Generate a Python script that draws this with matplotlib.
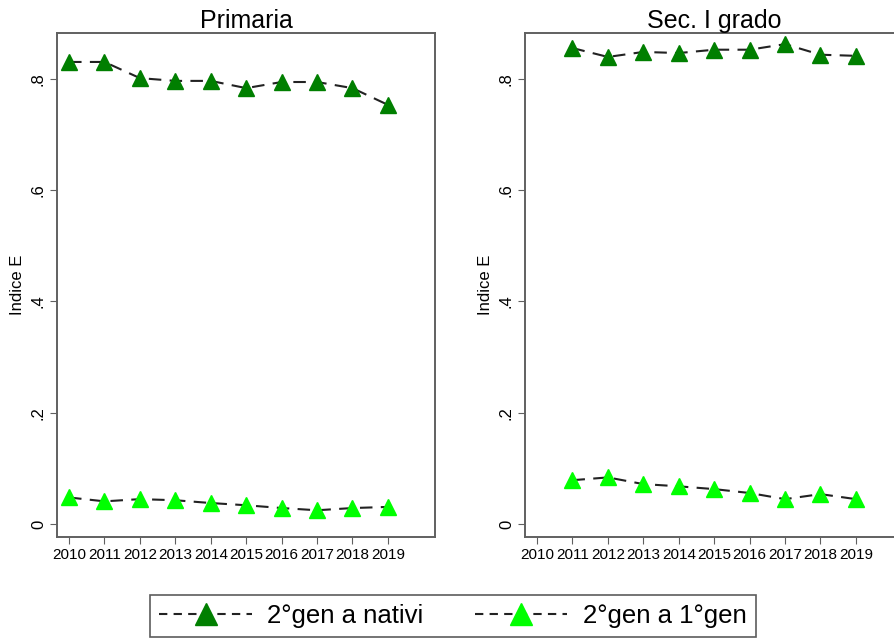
import numpy as np
import matplotlib
matplotlib.use("Agg")
import matplotlib.pyplot as plt
from matplotlib.lines import Line2D

plt.rcParams["font.family"] = ["Liberation Sans", "DejaVu Sans"]

years_prim = [2010, 2011, 2012, 2013, 2014, 2015, 2016, 2017, 2018, 2019]
prim_nativi = [0.830, 0.830, 0.801, 0.796, 0.796, 0.783, 0.794, 0.794, 0.783, 0.753]
prim_1gen = [0.048, 0.041, 0.045, 0.043, 0.038, 0.034, 0.029, 0.025, 0.029, 0.031]

years_sec = [2011, 2012, 2013, 2014, 2015, 2016, 2017, 2018, 2019]
sec_nativi = [0.855, 0.839, 0.848, 0.846, 0.852, 0.852, 0.862, 0.843, 0.841]
sec_1gen = [0.079, 0.084, 0.072, 0.068, 0.063, 0.056, 0.045, 0.054, 0.045]

xticks = list(range(2010, 2020))
yticks = [0, 0.2, 0.4, 0.6, 0.8]
ytick_labels = ["0", ".2", ".4", ".6", ".8"]

dark = "#007F00"
light = "#00FF00"
spine_col = "#606060"

fig = plt.figure(figsize=(8.94, 6.41), dpi=100)
ax1 = fig.add_axes([57 / 894, 1 - 537 / 641, 378 / 894, 504 / 641])
ax2 = fig.add_axes([525 / 894, 1 - 537 / 641, 378 / 894, 504 / 641])

panels = [
    (ax1, "Primaria", years_prim, prim_nativi, prim_1gen),
    (ax2, "Sec. I grado", years_sec, sec_nativi, sec_1gen),
]

for ax, title, yrs, nat, gen1 in panels:
    ax.plot(yrs, nat, linestyle=(0, (6, 4)), color="#222222", linewidth=1.5,
            marker="^", markersize=12, markerfacecolor=dark, markeredgecolor=dark)
    ax.plot(yrs, gen1, linestyle=(0, (6, 4)), color="#222222", linewidth=1.5,
            marker="^", markersize=12, markerfacecolor=light, markeredgecolor=light)
    ax.set_xlim(2009.66, 2020.33)
    ax.set_ylim(-0.023, 0.882)
    ax.set_xticks(xticks)
    ax.set_xticklabels([str(x) for x in xticks], fontsize=11)
    ax.set_yticks(yticks)
    ax.set_yticklabels(ytick_labels, rotation=90, va="center", fontsize=12)
    ax.set_ylabel("Indice E", fontsize=12, labelpad=4)
    ax.set_title(title, fontsize=18, pad=3)
    ax.tick_params(direction="out", length=5, color=spine_col, pad=3)
    for s in ax.spines.values():
        s.set_color(spine_col)
        s.set_linewidth(1.4)

handles = [
    Line2D([], [], linestyle=(0, (4, 3)), color="#222222", linewidth=1.5,
           marker="^", markersize=16, markerfacecolor=dark, markeredgecolor=dark),
    Line2D([], [], linestyle=(0, (4, 3)), color="#222222", linewidth=1.5,
           marker="^", markersize=16, markerfacecolor=light, markeredgecolor=light),
]
leg = fig.legend(handles, ["2°gen a nativi", "2°gen a 1°gen"], loc="center",
                 bbox_to_anchor=(453 / 894, 1 - 616 / 641), ncol=2, fontsize=18.5,
                 frameon=True, fancybox=False, handlelength=3.6,
                 handletextpad=0.6, columnspacing=2.0, borderpad=0.35,
                 borderaxespad=0)
leg.get_frame().set_edgecolor("#333333")
leg.get_frame().set_linewidth(1.2)

fig.savefig("out.png", dpi=100)
